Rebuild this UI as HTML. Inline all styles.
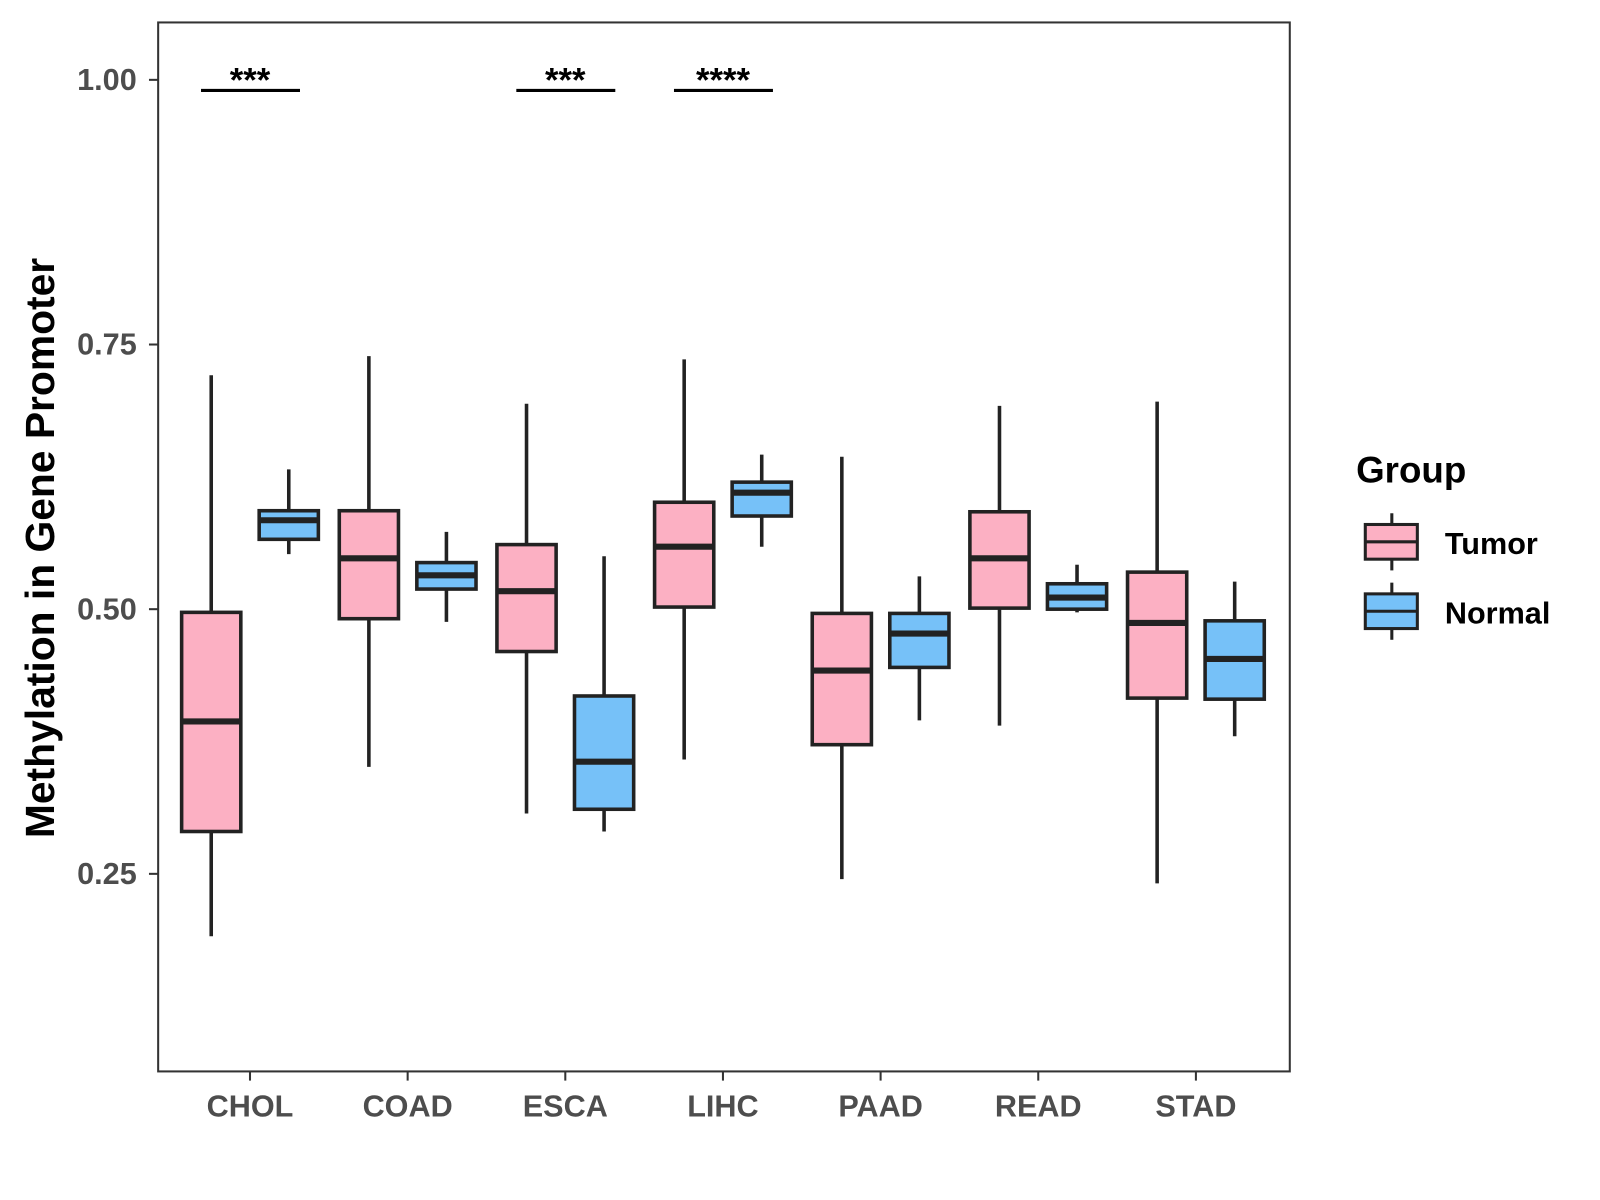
<!DOCTYPE html>
<html><head><meta charset="utf-8"><style>
html,body{margin:0;padding:0;background:#fff;}
svg{display:block;font-family:"Liberation Sans",Arial,sans-serif;}
</style></head><body>
<svg id="chart" width="1600" height="1200" viewBox="0 0 1600 1200">
<rect x="0" y="0" width="1600" height="1200" fill="#fff"/>
<g id="root" transform="scale(1.0204)">
<g id="plot"></g>
<rect x="155" y="22" width="1109" height="1028" fill="none" stroke="#333" stroke-width="2"/>
<text transform="translate(53,537) rotate(-90)" text-anchor="middle" font-size="40" font-weight="bold" fill="#000">Methylation in Gene Promoter</text>
<g>
<text x="1329" y="473" font-size="36" font-weight="bold" fill="#000">Group</text>
<g>
<line x1="1364" y1="503" x2="1364" y2="559" stroke="#222" stroke-width="3"/>
<rect x="1338" y="514" width="51" height="34" fill="#fcb0c3" stroke="#222" stroke-width="3"/>
<line x1="1338" y1="531" x2="1389" y2="531" stroke="#222" stroke-width="3"/>
<text x="1416" y="543" font-size="30" font-weight="bold" fill="#000">Tumor</text>
</g>
<g>
<line x1="1364" y1="571" x2="1364" y2="627" stroke="#222" stroke-width="3"/>
<rect x="1338" y="582" width="51" height="34" fill="#76c1f8" stroke="#222" stroke-width="3"/>
<line x1="1338" y1="599" x2="1389" y2="599" stroke="#222" stroke-width="3"/>
<text x="1416" y="611" font-size="30" font-weight="bold" fill="#000">Normal</text>
</g>
</g>
</g>
</svg>
<script>
const categories = ["CHOL","COAD","ESCA","LIHC","PAAD","READ","STAD"];
// [lower whisker, q1, median, q3, upper whisker]
const tumorStats = [
 [0.191,0.290,0.394,0.497,0.721],
 [0.351,0.491,0.548,0.593,0.739],
 [0.307,0.460,0.517,0.561,0.694],
 [0.358,0.502,0.559,0.601,0.736],
 [0.245,0.372,0.442,0.496,0.644],
 [0.390,0.501,0.548,0.592,0.692],
 [0.241,0.416,0.487,0.535,0.696]
];
const normalStats = [
 [0.552,0.566,0.584,0.593,0.632],
 [0.488,0.519,0.532,0.544,0.573],
 [0.290,0.311,0.356,0.418,0.550],
 [0.559,0.588,0.610,0.620,0.646],
 [0.395,0.445,0.477,0.496,0.531],
 [0.497,0.500,0.511,0.524,0.542],
 [0.380,0.415,0.453,0.489,0.526]
];
const yTicks = [0.25,0.50,0.75,1.00];
const yTickLabels = ["0.25","0.50","0.75","1.00"];
const sigCategories = ["CHOL","ESCA","LIHC"];
const sigLabels = ["***","***","****"];
const sigLevel = [0.99];

const NS="http://www.w3.org/2000/svg";
const plot=document.getElementById('plot');
const root=document.getElementById('root');
function y(v){return 597-(v-0.5)*1037.5;}
function x(i){return 245+i*154.5;}
function mk(tag,attrs,parent){const e=document.createElementNS(NS,tag);for(const k in attrs)e.setAttribute(k,attrs[k]);(parent||plot).appendChild(e);return e;}

yTicks.forEach((t,i)=>{
 const l=mk('line',{x1:146,x2:155,y1:y(t),y2:y(t),stroke:'#333','stroke-width':2},root);
 
 
 const tx=mk('text',{x:134,y:y(t)+10,'text-anchor':'end','font-size':30,'font-weight':'bold',fill:'#4d4d4d'},root);
 tx.textContent=yTickLabels[i];
 
 
});
categories.forEach((c,i)=>{
 const l=mk('line',{x1:x(i),x2:x(i),y1:1050,y2:1059,stroke:'#333','stroke-width':2},root);
 
 
 const tx=mk('text',{x:x(i),y:1094,'text-anchor':'middle','font-size':30,'font-weight':'bold',fill:'#4d4d4d'},root);
 tx.textContent=c;
 
 
});
function box(cx,s,fill,name){
 const g=mk('g',{});
 
 
 mk('line',{x1:cx,x2:cx,y1:y(s[0]),y2:y(s[4]),stroke:'#222','stroke-width':3.5},g);
 mk('rect',{x:cx-29,y:y(s[3]),width:58,height:y(s[1])-y(s[3]),fill:fill,stroke:'#222','stroke-width':3.5},g);
 mk('line',{x1:cx-29,x2:cx+29,y1:y(s[2]),y2:y(s[2]),stroke:'#222','stroke-width':6},g);
}
categories.forEach((c,i)=>{
 box(x(i)-38,tumorStats[i],'#fcb0c3','box-tumor-'+c.toLowerCase());
 box(x(i)+38,normalStats[i],'#76c1f8','box-normal-'+c.toLowerCase());
});
sigCategories.forEach((c,k)=>{
 const i=categories.indexOf(c);
 const l=mk('line',{x1:x(i)-48,x2:x(i)+49,y1:y(sigLevel[0]),y2:y(sigLevel[0]),stroke:'#000','stroke-width':3});
 
 
 const t=mk('text',{x:x(i),y:y(sigLevel[0])+1,'text-anchor':'middle','font-size':34,'font-weight':'bold',fill:'#000'});
 t.textContent=sigLabels[k];
 
 
});
</script>
</body></html>
